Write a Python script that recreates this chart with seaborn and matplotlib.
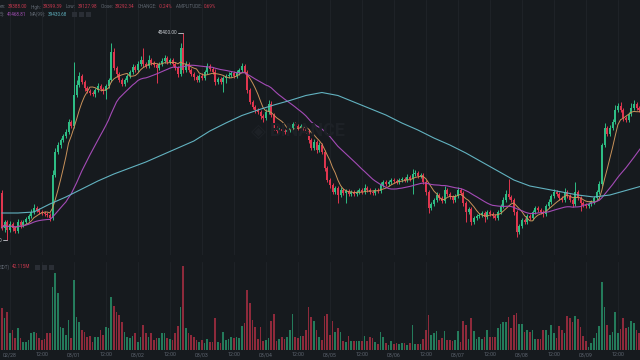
import numpy as np
import pandas as pd
import matplotlib
matplotlib.use("Agg")
import matplotlib.pyplot as plt
from matplotlib.patches import Rectangle
import seaborn as sns

# ---------------- data ----------------
start_time = "2022-02-27 21:00"
first_open = 39000
closes = [
    37600, 37840, 37520, 37760, 37600, 37480, 37840, 37720, 37840, 37960,
    38080, 38240, 38400, 38320, 38240, 38200, 38160, 38120, 38000, 39720,
    40640, 40920, 41120, 41280, 41440, 41840, 41680, 42920, 43320, 43680,
    43440, 43200, 43080, 43000, 42960, 43120, 43280, 43160, 43080, 43280,
    43520, 44640, 44000, 43760, 43520, 43360, 43520, 43680, 43840, 44040,
    43920, 44160, 44320, 44160, 44080, 44320, 44200, 44120, 44000, 44160,
    44280, 44400, 44240, 44320, 44160, 44000, 43760, 44800, 43920, 44160,
    43920, 43760, 43640, 43520, 43680, 43600, 43840, 44080, 43960, 43840,
    43440, 43560, 43440, 43600, 43680, 43720, 43800, 43680, 43800, 43920,
    44080, 43840, 43120, 42640, 42440, 42320, 42240, 42080, 42000, 42240,
    42560, 42120, 41600, 41480, 41560, 41480, 41440, 41520, 41600, 41760,
    41680, 41600, 41680, 41600, 41480, 41120, 40800, 41040, 40720, 40920,
    40640, 40000, 39520, 39320, 39040, 39200, 38920, 39120, 39000, 39080,
    38960, 39040, 38960, 39040, 39120, 39040, 39200, 39120, 39040, 39000,
    39120, 39080, 39320, 39440, 39360, 39440, 39520, 39480, 39440, 39520,
    39560, 39520, 39640, 39560, 39760, 39800, 39680, 39720, 39440, 39040,
    38400, 38560, 38720, 38920, 38800, 38680, 39120, 38960, 38840, 38720,
    38880, 39120, 39000, 38600, 38240, 38360, 37840, 38000, 38080, 38120,
    38200, 38040, 38240, 38160, 38080, 38000, 38240, 38480, 38720, 38960,
    38840, 38720, 38240, 37440, 37680, 37920, 37840, 38080, 38000, 38240,
    38400, 38320, 38240, 38160, 38480, 38640, 38880, 39040, 38960, 38800,
    38720, 39040, 38880, 38720, 38560, 39040, 38800, 38600, 38520, 38480,
    38560, 38640, 38800, 39040, 39360, 40920, 41600, 41360, 41600, 41840,
    42320, 42480, 42320, 42000, 41920, 42160, 42400, 42560, 42400, 42320,
    42440,
]
upper_wick = [
    120, 80, 80, 120, 80, 80, 120, 80, 80, 80,
    80, 120, 160, 80, 80, 80, 80, 80, 80, 200,
    160, 120, 80, 80, 120, 120, 80, 1320, 200, 160,
    80, 80, 80, 80, 80, 80, 120, 80, 80, 80,
    80, 360, 160, 80, 80, 80, 80, 80, 80, 120,
    80, 120, 160, 480, 80, 200, 80, 80, 80, 80,
    120, 120, 80, 80, 80, 80, 80, 200, 600, 120,
    80, 80, 80, 80, 80, 120, 80, 120, 80, 80,
    120, 80, 80, 80, 80, 120, 80, 80, 120, 80,
    120, 80, 80, 80, 80, 80, 80, 80, 80, 120,
    160, 120, 80, 80, 80, 80, 80, 80, 120, 80,
    80, 80, 80, 80, 80, 80, 80, 120, 80, 120,
    80, 80, 80, 80, 80, 80, 80, 120, 80, 80,
    80, 80, 80, 80, 80, 80, 160, 80, 80, 80,
    80, 80, 120, 80, 80, 80, 80, 80, 80, 80,
    80, 80, 120, 80, 200, 120, 80, 80, 80, 80,
    80, 80, 80, 120, 80, 80, 160, 80, 80, 80,
    80, 120, 80, 80, 80, 80, 80, 80, 80, 80,
    80, 80, 80, 80, 80, 80, 80, 80, 120, 160,
    600, 80, 80, 80, 80, 80, 80, 80, 80, 80,
    80, 80, 80, 80, 80, 120, 80, 120, 80, 80,
    80, 160, 80, 80, 80, 400, 80, 80, 80, 80,
    80, 80, 80, 80, 120, 80, 200, 80, 120, 120,
    200, 120, 160, 80, 80, 80, 200, 160, 80, 80,
    120,
]
lower_wick = [
    80, 160, 400, 80, 120, 80, 80, 120, 80, 80,
    80, 80, 80, 80, 80, 80, 80, 80, 120, 80,
    80, 80, 120, 80, 80, 80, 80, 80, 80, 80,
    80, 120, 80, 80, 80, 120, 80, 80, 120, 300,
    80, 80, 80, 120, 80, 80, 80, 80, 80, 80,
    80, 80, 80, 120, 80, 80, 80, 80, 600, 80,
    80, 80, 80, 80, 80, 80, 120, 80, 120, 80,
    80, 80, 120, 80, 80, 80, 80, 80, 80, 80,
    120, 80, 80, 400, 200, 80, 80, 80, 80, 80,
    80, 80, 120, 80, 80, 120, 80, 120, 160, 80,
    80, 80, 80, 120, 80, 80, 80, 80, 80, 80,
    80, 80, 80, 80, 80, 120, 80, 80, 120, 80,
    80, 120, 80, 120, 80, 80, 300, 80, 80, 400,
    80, 80, 80, 80, 80, 80, 80, 80, 80, 80,
    80, 80, 80, 80, 80, 80, 80, 80, 80, 80,
    80, 80, 80, 80, 600, 80, 80, 80, 80, 120,
    200, 80, 80, 80, 80, 80, 80, 80, 80, 120,
    80, 80, 80, 120, 400, 80, 120, 80, 80, 80,
    80, 200, 80, 80, 80, 80, 80, 80, 80, 80,
    80, 80, 120, 200, 80, 80, 80, 80, 80, 80,
    80, 80, 80, 120, 80, 80, 80, 80, 80, 80,
    80, 80, 80, 80, 120, 80, 80, 320, 80, 80,
    80, 80, 80, 80, 80, 80, 80, 80, 80, 80,
    80, 80, 80, 120, 80, 80, 80, 80, 80, 80,
    80,
]
volumes = [
    4200, 3200, 3800, 1700, 2000, 1200, 2200, 1200, 800, 800,
    1000, 1700, 1800, 1700, 1200, 1000, 1100, 1700, 1700, 6300,
    7700, 5700, 2300, 2200, 1500, 3000, 1200, 7000, 3300, 2800,
    2000, 1800, 1300, 1400, 800, 1300, 1300, 2000, 1500, 2300,
    2200, 5300, 4400, 3800, 3500, 2800, 1800, 1300, 1200, 1400,
    1700, 800, 1300, 2500, 1700, 1300, 1700, 1000, 1200, 1200,
    1700, 1700, 1200, 1100, 1000, 1700, 2400, 4300, 8400, 2200,
    1700, 1500, 1300, 1000, 800, 1000, 700, 1100, 800, 800,
    3200, 800, 700, 1800, 1000, 1100, 1300, 1200, 1300, 1200,
    2400, 2700, 6000, 4700, 3000, 2300, 1100, 2300, 900, 1000,
    1200, 2900, 3600, 900, 1100, 1300, 1100, 1300, 2000, 3600,
    1300, 1200, 1400, 1400, 2000, 4300, 3300, 2900, 2000, 1300,
    1000, 3400, 3600, 1500, 2900, 1800, 2200, 1800, 900, 800,
    1400, 900, 900, 900, 900, 900, 1400, 900, 1300, 1200,
    800, 600, 1800, 1300, 700, 500, 900, 600, 700, 600,
    700, 700, 500, 700, 2500, 600, 600, 600, 1100, 2000,
    3500, 1500, 1700, 1900, 1000, 1200, 1900, 1000, 1000, 900,
    1000, 1900, 800, 2900, 2500, 1100, 3200, 1900, 1100, 1300,
    1100, 1300, 2000, 1300, 1300, 1300, 2200, 2600, 2800, 2800,
    3300, 2200, 3500, 3700, 2600, 2600, 1800, 2000, 1800, 2000,
    1100, 1100, 1100, 2000, 2000, 1500, 2500, 1700, 1200, 2400,
    2000, 1700, 3400, 3200, 2800, 3400, 3100, 2300, 1400, 900,
    300, 700, 1200, 1700, 2400, 6800, 4300, 2500, 1500, 1800,
    3800, 1700, 2100, 3200, 2200, 2300, 2900, 2700, 2000, 1700,
    1300,
]
# MA(99) read every 6 candles
ma99_every6 = [
    38200, 38200, 38240, 38560, 38840, 39160, 39480, 39760, 40000, 40240,
    40520, 40800, 41080, 41480, 41800, 42100, 42320, 42520, 42700, 42900,
    43020, 42900, 42640, 42380, 42120, 41800, 41520, 41200, 40920, 40600,
    40240, 39880, 39520, 39280, 39160, 39040, 38920, 38840, 38920, 39100,
    39280,
]
header1 = [("en:", "lbl"), ("39388.00", "red"), ("High:", "lbl"), ("39399.39", "red"),
           ("Low:", "lbl"), ("39127.98", "red"), ("Close:", "lbl"), ("39292.34", "red"),
           ("CHANGE:", "lbl"), ("-0.24%", "red"), ("AMPLITUDE:", "lbl"), ("0.69%", "red")]
header2 = [("5):", "lbl"), ("41468.81", "ma25"), ("MA(99):", "lbl"), ("39430.68", "ma99")]
vol_header = [("SDT)", "lbl"), ("42.115M", "red")]

# ---------------- styling ----------------
BG = "#161a1e"
GRID = "#1e2227"
GREEN = "#2ebd85"
RED = "#e0364f"
MA7C = "#c9925a"
MA25C = "#a44bb6"
MA99C = "#62b2c0"
LBL = "#5f6670"
COLS = {"lbl": LBL, "red": "#c8394f", "ma25": "#a34fb5", "ma99": "#5fb0be"}
FONT = ["Roboto", "DejaVu Sans"]

sns.set_style("dark", {"axes.facecolor": BG, "figure.facecolor": BG})
plt.rcParams["font.family"] = FONT

n = len(closes)
times = pd.date_range(start_time, periods=n, freq="h")
c = np.array(closes, dtype=float)
o = np.concatenate([[first_open], c[:-1]])
h = np.maximum(o, c) + np.array(upper_wick)
l = np.minimum(o, c) - np.array(lower_wick)
up = c >= o
cols = np.where(up, GREEN, RED)
x = np.arange(n)

ma7 = pd.Series(c).rolling(7, min_periods=1).mean()
ma25 = pd.Series(c).rolling(25, min_periods=1).mean()
ma99_x = x[::6]

fig = plt.figure(figsize=(6.4, 3.6), dpi=100)
fig.patch.set_facecolor(BG)
ax = fig.add_axes([0, 105 / 360, 1, 255 / 360])
axv = fig.add_axes([0, 10 / 360, 1, 88 / 360])

tick_pos = [i for i, t in enumerate(times) if t.minute == 0 and t.hour in (0, 12)]
tick_lab = [t.strftime("%m/%d") if t.hour == 0 else "12:00" for t in times[tick_pos]]

for a in (ax, axv):
    a.set_facecolor(BG)
    for s in a.spines.values():
        s.set_visible(False)
    a.set_xlim(-0.7, 239.3)
    a.grid(False)
    for t in tick_pos:
        a.axvline(t, color=GRID, lw=0.8, zorder=0)
    a.set_yticks([])

ax.set_ylim(46720 - 40 * 255, 46720)
axv.set_ylim(0, 8800)

# candles
ax.vlines(x, l, h, colors=cols, lw=0.7, zorder=2)
body_bottom = np.minimum(o, c)
body_h = np.maximum(np.abs(c - o), 40)
ax.bar(x, body_h, bottom=body_bottom, width=0.72, color=cols, linewidth=0, zorder=2)

# moving averages
sns.lineplot(x=x, y=ma7.values, ax=ax, color=MA7C, linewidth=0.7, zorder=3)
sns.lineplot(x=x, y=ma25.values, ax=ax, color=MA25C, linewidth=0.8, zorder=3)
sns.lineplot(x=ma99_x, y=ma99_every6, ax=ax, color=MA99C, linewidth=0.8, zorder=3)

# max / min markers
imax = int(np.argmax(h))
imin = int(np.argmin(l))
ax.plot([imax - 1.9, imax], [h[imax], h[imax]], color="#c8ccd2", lw=0.6, zorder=4)
ax.text(imax - 2.1, h[imax], f"{h[imax]:.2f}", ha="right", va="center",
        fontsize=3.4, color="#c8ccd2", zorder=4)
ax.plot([imin - 1.6, imin], [l[imin], l[imin]], color="#c8ccd2", lw=0.6, zorder=4)
ax.text(imin - 1.8, l[imin], f"{l[imin]:.2f}", ha="right", va="center",
        fontsize=3.4, color="#c8ccd2", zorder=4)

# volume
axv.bar(x, volumes, width=0.72, color=cols, alpha=0.6, linewidth=0)
axv.set_xticks(tick_pos)
axv.set_xticklabels(tick_lab, fontsize=3.8, color="#5e6570")
axv.tick_params(axis="x", length=0, pad=1.5)

# watermark
fig.text(258 / 640, 1 - 131 / 360, "\u25c8", fontsize=14, color="#1d2126",
         ha="center", va="center", zorder=0, family="DejaVu Sans")
fig.text(270 / 640, 1 - 131 / 360, "BINANCE", fontsize=13, fontweight="bold",
         color="#1d2126", ha="left", va="center", zorder=0)

# header texts laid out one after the other
fig.canvas.draw()
renderer = fig.canvas.get_renderer()


def text_row(items, x0, y, fs=3.3):
    xp = x0
    for txt, kind in items:
        t = fig.text(xp / 640, 1 - y / 360, txt, fontsize=fs, color=COLS[kind], va="center")
        w = t.get_window_extent(renderer).width
        xp += w + (1.5 if kind == "lbl" else 3.5)
    return xp


def squares(x0, y):
    for k in range(3):
        fig.add_artist(Rectangle(((x0 + 7 * k) / 640, 1 - (y + 2.5) / 360), 5 / 640, 5 / 360,
                                 transform=fig.transFigure, color="#2a2e35", lw=0))


text_row(header1, 0, 7)
end2 = text_row(header2, 0, 14.5)
squares(end2 + 1, 14.5)
endv = text_row(vol_header, 0, 267)
squares(endv + 1, 267)

fig.savefig("out.png", dpi=100, facecolor=BG)
